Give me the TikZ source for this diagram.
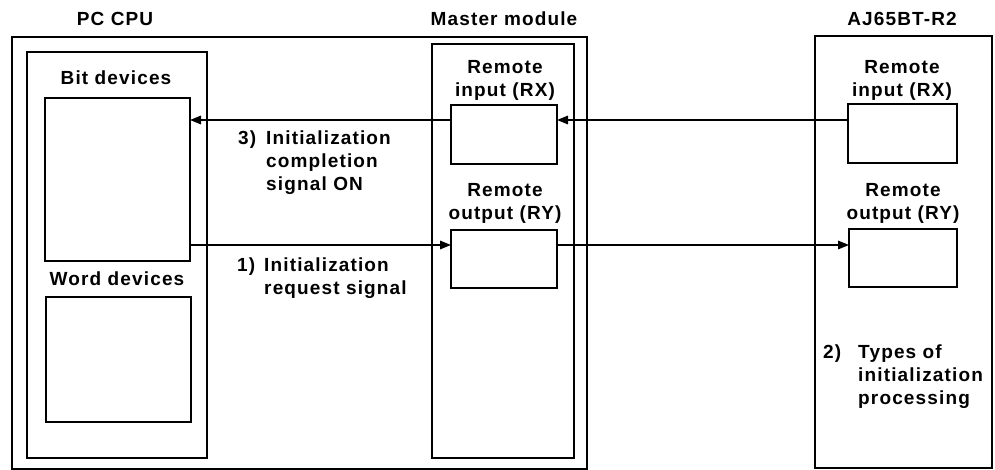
\documentclass[tikz,border=0pt]{standalone}
\usepackage{fontspec}
\setmainfont{Liberation Sans}[LetterSpace=6]
\usetikzlibrary{arrows.meta}
\begin{document}
\begin{tikzpicture}[x=1pt,y=-1pt,
  frame/.style={draw, line width=2pt, rectangle, inner sep=0pt, outer sep=0pt, anchor=north west},
  devbox/.style={draw, line width=1.8pt, rectangle, inner sep=0pt, outer sep=0pt, anchor=north west},
  lbl/.style={inner sep=0pt, font=\bfseries\fontsize{19}{23}\selectfont},
  arr/.style={line width=1.6pt, -{Triangle[length=11pt,width=8.5pt]}}]
\useasboundingbox (0,0) rectangle (995,470);
% frames
\node[frame, minimum width=575pt, minimum height=432pt] (pcframe) at (12,37) {};
\node[frame, minimum width=177pt, minimum height=432pt] (ajframe) at (815,36) {};
\node[frame, minimum width=180pt, minimum height=406pt] (cpu) at (27,52) {};
\node[frame, minimum width=142pt, minimum height=414pt] (master) at (432,44) {};
% device boxes
\node[devbox, minimum width=145pt, minimum height=163pt] (bit) at (45,98) {};
\node[devbox, minimum width=145pt, minimum height=125pt] (word) at (46,297) {};
\node[devbox, minimum width=106pt, minimum height=59pt] (mrx) at (451,105) {};
\node[devbox, minimum width=106pt, minimum height=58pt] (mry) at (451,230) {};
\node[devbox, minimum width=109pt, minimum height=59pt] (ajrx) at (848,104) {};
\node[devbox, minimum width=108pt, minimum height=58pt] (ajry) at (849,229) {};
% titles
\node[lbl, anchor=base] (tpc) at (115,26) {PC CPU};
\node[lbl, anchor=base] (tmaster) at (504,26) {Master module};
\node[lbl, anchor=base] (taj) at (902,26) {AJ65BT-R2};
\node[lbl, anchor=base] (tbit) at (116,85) {Bit devices};
\node[lbl, anchor=base] (tword) at (117,285) {Word devices};
\node[lbl, anchor=base] (tmrx) at (505,74) {\begin{tabular}[t]{@{}c@{}}Remote\\input (RX)\end{tabular}};
\node[lbl, anchor=base] (tmry) at (505,197) {\begin{tabular}[t]{@{}c@{}}Remote\\output (RY)\end{tabular}};
\node[lbl, anchor=base] (tajrx) at (902,74) {\begin{tabular}[t]{@{}c@{}}Remote\\input (RX)\end{tabular}};
\node[lbl, anchor=base] (tajry) at (903,197) {\begin{tabular}[t]{@{}c@{}}Remote\\output (RY)\end{tabular}};
% step labels
\node[lbl, anchor=base west] (l3) at (238,145) {\begin{tabular}[t]{@{}l@{\hspace{10pt}}l@{}}3)&Initialization\\&completion\\&signal ON\end{tabular}};
\node[lbl, anchor=base west] (l1) at (237,272) {\begin{tabular}[t]{@{}l@{\hspace{9pt}}l@{}}1)&Initialization\\&request signal\end{tabular}};
\node[lbl, anchor=base west] (l2) at (823,358) {\begin{tabular}[t]{@{}l@{\hspace{17pt}}l@{}}2)&Types of\\&initialization\\&processing\end{tabular}};
% arrows
\coordinate (yx) at (0,120);
\coordinate (yy) at (0,245);
\draw[arr] (ajrx.west |- yx) -- (mrx.east |- yx);
\draw[arr] (mrx.west |- yx) -- (bit.east |- yx);
\draw[arr] (bit.east |- yy) -- (mry.west |- yy);
\draw[arr] (mry.east |- yy) -- (ajry.west |- yy);
\end{tikzpicture}
\end{document}
